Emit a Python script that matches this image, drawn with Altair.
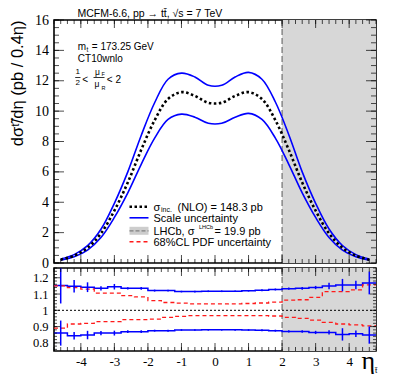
import altair as alt
import pandas as pd

# ---------------- data ----------------
eta = [-4.6, -4.2, -3.8, -3.4, -3.0, -2.6, -2.2, -1.8, -1.4, -1.0, -0.6, -0.2,
       0.2, 0.6, 1.0, 1.4, 1.8, 2.2, 2.6, 3.0, 3.4, 3.8, 4.2, 4.6]
bin_edges = [-4.8, -4.4, -4.0, -3.6, -3.2, -2.8, -2.4, -2.0, -1.6, -1.2, -0.8, -0.4, 0.0,
             0.4, 0.8, 1.2, 1.6, 2.0, 2.4, 2.8, 3.2, 3.6, 4.0, 4.4, 4.8]

central = [0.22, 0.48, 1.0, 1.95, 3.45, 5.3, 7.45, 9.4, 10.8, 11.25, 11.0, 10.55,
           10.55, 11.0, 11.25, 10.8, 9.4, 7.45, 5.3, 3.45, 1.95, 1.0, 0.48, 0.22]
scale_hi = [0.26, 0.55, 1.14, 2.22, 3.93, 6.0, 8.4, 10.55, 12.1, 12.5, 12.25, 11.7,
            11.7, 12.25, 12.55, 12.1, 10.6, 8.45, 6.0, 3.93, 2.24, 1.15, 0.55, 0.26]
scale_lo = [0.19, 0.41, 0.85, 1.68, 3.0, 4.62, 6.5, 8.22, 9.45, 9.8, 9.6, 9.2,
            9.2, 9.6, 9.85, 9.45, 8.22, 6.5, 4.62, 3.0, 1.68, 0.85, 0.41, 0.19]

ratio_hi = [1.152, 1.148, 1.142, 1.135, 1.145, 1.135, 1.135, 1.121, 1.121, 1.115, 1.115, 1.117,
            1.117, 1.117, 1.120, 1.123, 1.128, 1.133, 1.135, 1.140, 1.150, 1.155, 1.155, 1.168]
ratio_hi_err = [0.11, 0.038, 0.03, 0.013, 0.017, 0.007, 0.009, 0.006, 0.006, 0.005, 0.005, 0.005,
                0.005, 0.005, 0.005, 0.006, 0.006, 0.007, 0.008, 0.01, 0.02, 0.038, 0.026, 0.07]
ratio_lo = [0.860, 0.844, 0.848, 0.860, 0.860, 0.869, 0.869, 0.875, 0.875, 0.879, 0.879, 0.880,
            0.880, 0.880, 0.879, 0.878, 0.875, 0.870, 0.870, 0.864, 0.864, 0.852, 0.856, 0.848]
ratio_lo_err = [0.077, 0.023, 0.026, 0.013, 0.015, 0.008, 0.008, 0.006, 0.006, 0.005, 0.005, 0.005,
                0.005, 0.005, 0.005, 0.006, 0.006, 0.007, 0.008, 0.01, 0.013, 0.038, 0.02, 0.053]
pdf_hi = [1.150, 1.140, 1.130, 1.106, 1.106, 1.090, 1.082, 1.060, 1.048, 1.044, 1.040, 1.039,
          1.039, 1.040, 1.042, 1.045, 1.050, 1.062, 1.065, 1.080, 1.115, 1.115, 1.125, 1.156]
pdf_lo = [0.890, 0.916, 0.920, 0.930, 0.930, 0.943, 0.943, 0.946, 0.957, 0.963, 0.967, 0.967,
          0.967, 0.967, 0.967, 0.967, 0.965, 0.957, 0.950, 0.940, 0.926, 0.916, 0.910, 0.905]

x_range = [-4.8, 4.8]
lhcb_range = [2.0, 4.8]
y_top_range = [0, 16]
y_bot_range = [0.75, 1.26]

x_major = [-4, -3, -2, -1, 0, 1, 2, 3, 4]
x_minor = [round(-4.8 + 0.2 * k, 1) for k in range(49)]
y_top_major = [0, 2, 4, 6, 8, 10, 12, 14, 16]
y_top_minor = [0.5 * k for k in range(33)]
y_bot_major = [0.8, 0.9, 1.0, 1.1, 1.2]
y_bot_minor = [round(0.76 + 0.02 * k, 2) for k in range(26)]

# ---------------- layout / style ----------------
W = 322
H_TOP = 243
H_BOT = 83
SANS = "Liberation Sans"
SERIF = "Liberation Serif"
BLUE = "#0000ff"
RED = "#ff1a1a"
SHADE = "#d7d7d7"

xsc = alt.Scale(domain=x_range, nice=False, zero=False)
ysc_top = alt.Scale(domain=y_top_range, nice=False, zero=False)
ysc_bot = alt.Scale(domain=y_bot_range, nice=False, zero=False)

# every layer that shares a scale gets the identical axis definition
yaxis_top = alt.Axis(values=y_top_major, labelFont=SERIF, labelFontSize=14, labelPadding=5.5,
                     labelFlush=False, labelColor="black",
                     ticks=False, domain=False, grid=False,
                     title="dσᵗ̃/dη (pb / 0.4η)", titleFont=SANS, titleColor="black",
                     titleFontSize=16.5, titleFontWeight="normal", titleAnchor="end",
                     titlePadding=9)
xaxis_bot = alt.Axis(values=x_major, labelFont=SERIF, labelFontSize=13, labelPadding=4,
                     labelFlush=False, labelColor="black",
                     ticks=False, domain=False, grid=False, title=None,
                     labelExpr="datum.value < 0 ? '-' + abs(datum.value) : '' + datum.value")
yaxis_bot = alt.Axis(values=y_bot_major, labelFont=SERIF, labelFontSize=12.5, labelPadding=6,
                     labelFlush=False, labelColor="black",
                     ticks=False, domain=False, grid=False, title=None, format="~g")

one = pd.DataFrame({"k": [0]})


def label(text, px, py, size, font=SANS, align="left", baseline="alphabetic"):
    return alt.Chart(pd.DataFrame({"t": [text]})).mark_text(
        align=align, baseline=baseline, fontSize=size, font=font, color="black"
    ).encode(x=alt.value(px), y=alt.value(py), text="t:N")


def hline(x1, x2, y, **kw):
    return alt.Chart(one).mark_rule(**kw).encode(
        x=alt.value(x1), x2=alt.value(x2), y=alt.value(y))


def ticks(ysc, xaxis, yaxis, H, ys_major, ys_minor, lx, ly):
    layers = []
    for vals, ln in ((x_major, lx), (x_minor, lx / 2)):
        d = pd.DataFrame({"tx": vals})
        base = alt.Chart(d).mark_tick(color="black", thickness=1, size=ln, orient="vertical")
        for yy in (H - ln / 2, ln / 2):
            layers.append(base.encode(x=alt.X("tx:Q", scale=xsc, axis=xaxis), y=alt.value(yy)))
    for vals, ln in ((ys_major, ly), (ys_minor, ly / 2)):
        d = pd.DataFrame({"ty": vals})
        base = alt.Chart(d).mark_tick(color="black", thickness=1, size=ln, orient="horizontal")
        for xx in (ln / 2, W - ln / 2):
            layers.append(base.encode(y=alt.Y("ty:Q", scale=ysc, axis=yaxis), x=alt.value(xx)))
    return layers


# ---------------- top panel ----------------
shade_top = alt.Chart(pd.DataFrame({"a": [lhcb_range[0]], "b": [lhcb_range[1]],
                                    "c": [y_top_range[0]], "d": [y_top_range[1]]})).mark_rect(
    color=SHADE).encode(x=alt.X("a:Q", scale=xsc, axis=None), x2="b:Q",
                        y=alt.Y("c:Q", scale=ysc_top, axis=yaxis_top), y2="d:Q")
edge_top = alt.Chart(pd.DataFrame({"a": [lhcb_range[0]]})).mark_rule(
    color="#707070", strokeDash=[6, 3], strokeWidth=1.2).encode(
    x=alt.X("a:Q", scale=xsc, axis=None))

curves = pd.DataFrame({"eta": eta, "c": central, "hi": scale_hi, "lo": scale_lo})


def curve(field, **kw):
    return alt.Chart(curves).mark_line(interpolate="catmull-rom", **kw).encode(
        x=alt.X("eta:Q", scale=xsc, axis=None),
        y=alt.Y(f"{field}:Q", scale=ysc_top, axis=yaxis_top))


line_hi = curve("hi", color=BLUE, strokeWidth=1.6)
line_lo = curve("lo", color=BLUE, strokeWidth=1.6)
line_c = curve("c", color="black", strokeWidth=2.6, strokeDash=[2.5, 2.5])

top_annot = [
    label("MCFM-6.6, pp → tt̄, √s = 7 TeV", 23.5, -3, 10.5),
    label("m", 23.8, 29.5, 10),
    label("t", 32.4, 32, 6.5),
    label("= 173.25 GeV", 37.8, 29.5, 10),
    label("CT10wnlo", 23.8, 41.6, 10),
    label("1", 23.8, 52, 8, align="center", baseline="middle"),
    label("2", 23.8, 63, 8, align="center", baseline="middle"),
    hline(21.2, 26.5, 57.5, color="black", strokeWidth=0.8),
    label("<", 31.2, 60, 10, align="center", baseline="middle"),
    label("μ", 43.5, 51.5, 8.5, align="center", baseline="middle"),
    label("F", 47.6, 53.5, 5.5, align="left", baseline="middle"),
    hline(39.5, 50.5, 57.5, color="black", strokeWidth=0.8),
    label("μ", 43.0, 63.5, 8.5, align="center", baseline="middle"),
    label("R", 47.6, 67.8, 5.5, align="left", baseline="middle"),
    label("< 2", 52.8, 60, 10, align="left", baseline="middle"),
]

# legend (pixel positions relative to the top panel)
ly = [186.8, 197.8, 210.8, 221.8]
lx1, lx2, tx = 75.5, 94.5, 99.5
legend = [
    hline(lx1, lx2, ly[0], color="black", strokeWidth=2.6, strokeDash=[2.5, 2.5]),
    label("σ", tx, ly[0] + 4, 11),
    label("inc.", tx + 7.5, ly[0] + 5, 7),
    label("(NLO) = 148.3 pb", tx + 24, ly[0] + 4, 11),
    hline(lx1, lx2, ly[1], color=BLUE, strokeWidth=1.6),
    label("Scale uncertainty", tx, ly[1] + 4, 11),
    alt.Chart(one).mark_rect(color="#cdcdcd").encode(
        x=alt.value(lx1), x2=alt.value(lx2), y=alt.value(ly[2] - 4), y2=alt.value(ly[2] + 4)),
    hline(lx1, lx2, ly[2], color="#808080", strokeWidth=1.2, strokeDash=[4, 2]),
    label("LHCb, σ", tx, ly[2] + 4, 11),
    label("LHCb", tx + 45.5, ly[2] - 1.5, 5.5),
    label("= 19.9 pb", tx + 61, ly[2] + 4, 11),
    hline(lx1, lx2, ly[3], color=RED, strokeWidth=1.4, strokeDash=[4, 3]),
    label("68%CL PDF uncertainty", tx, ly[3] + 4, 11),
]

top_layers = ([shade_top, edge_top, line_hi, line_lo, line_c]
              + ticks(ysc_top, None, yaxis_top, H_TOP, y_top_major, y_top_minor, 8, 10)
              + top_annot + legend)
top = alt.layer(*top_layers).properties(width=W, height=H_TOP)

# ---------------- bottom (ratio) panel ----------------
shade_bot = alt.Chart(pd.DataFrame({"a": [lhcb_range[0]], "b": [lhcb_range[1]],
                                    "c": [y_bot_range[0]], "d": [y_bot_range[1]]})).mark_rect(
    color=SHADE).encode(x=alt.X("a:Q", scale=xsc, axis=xaxis_bot), x2="b:Q",
                        y=alt.Y("c:Q", scale=ysc_bot, axis=yaxis_bot), y2="d:Q")
edge_bot = alt.Chart(pd.DataFrame({"a": [lhcb_range[0]]})).mark_rule(
    color="#707070", strokeDash=[6, 3], strokeWidth=1.2).encode(
    x=alt.X("a:Q", scale=xsc, axis=xaxis_bot))
unity = alt.Chart(pd.DataFrame({"v": [1.0]})).mark_rule(
    color="black", strokeDash=[2, 2], strokeWidth=1).encode(
    y=alt.Y("v:Q", scale=ysc_bot, axis=yaxis_bot))

steps = pd.DataFrame({
    "edge": bin_edges,
    "hi": ratio_hi + [ratio_hi[-1]],
    "lo": ratio_lo + [ratio_lo[-1]],
    "phi": pdf_hi + [pdf_hi[-1]],
    "plo": pdf_lo + [pdf_lo[-1]],
})
errs = pd.DataFrame({"eta": eta, "hi": ratio_hi, "he": ratio_hi_err,
                     "lo": ratio_lo, "le": ratio_lo_err})


def step(field, color, dash=None):
    kw = dict(color=color, strokeWidth=1.5, interpolate="step-after", clip=True)
    if dash:
        kw["strokeDash"] = dash
        kw["strokeWidth"] = 1.3
    return alt.Chart(steps).mark_line(**kw).encode(
        x=alt.X("edge:Q", scale=xsc, axis=xaxis_bot),
        y=alt.Y(f"{field}:Q", scale=ysc_bot, axis=yaxis_bot))


def errbars(c, e):
    return alt.Chart(errs).transform_calculate(
        a=f"datum.{c} - datum.{e}", b=f"datum.{c} + datum.{e}").mark_rule(
        color=BLUE, strokeWidth=1.5, clip=True).encode(
        x=alt.X("eta:Q", scale=xsc, axis=xaxis_bot),
        y=alt.Y("a:Q", scale=ysc_bot, axis=yaxis_bot), y2="b:Q")


bot_annot = [
    label("η", 307.5, 101, 26, font=SERIF),
    label("t̃", 321, 105, 8, font=SANS),
]

bot_layers = ([shade_bot, edge_bot, unity,
               step("hi", BLUE), step("lo", BLUE),
               step("phi", RED, dash=[4, 3]), step("plo", RED, dash=[4, 3]),
               errbars("hi", "he"), errbars("lo", "le")]
              + ticks(ysc_bot, xaxis_bot, yaxis_bot, H_BOT, y_bot_major, y_bot_minor, 8, 6)
              + bot_annot)
bottom = alt.layer(*bot_layers).properties(width=W, height=H_BOT)

chart = alt.vconcat(top, bottom, spacing=5, bounds="flush").properties(padding=0).configure_view(
    stroke="black", strokeWidth=1.6
)

chart.save("out.html", embed_options={"renderer": "svg", "actions": False})
